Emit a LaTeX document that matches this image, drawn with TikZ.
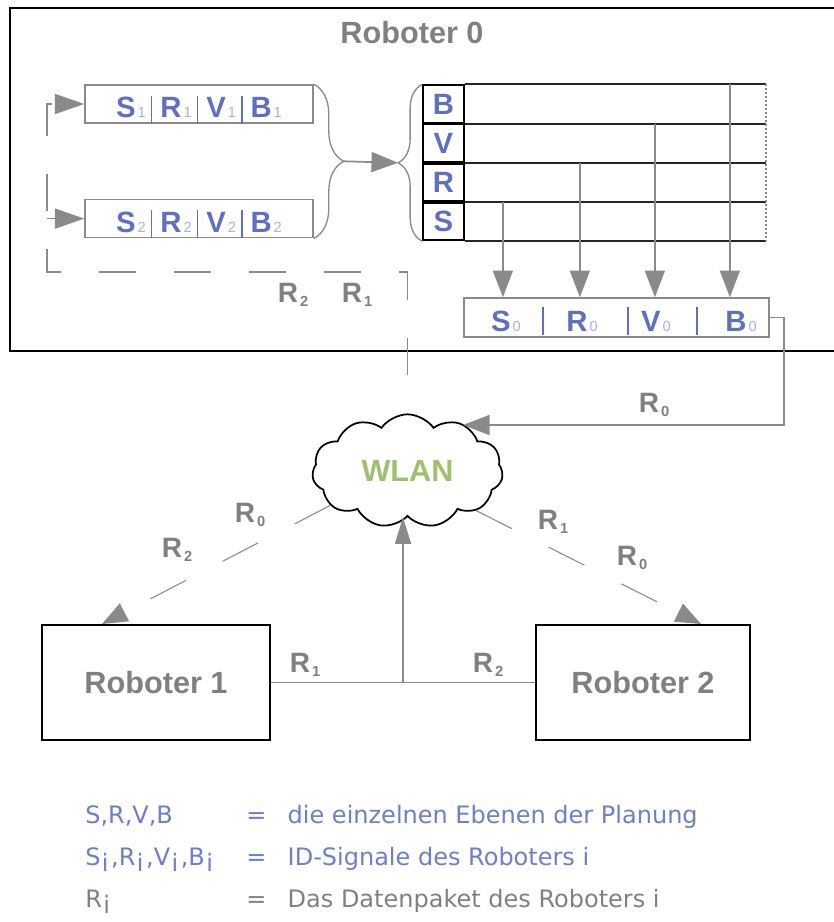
\documentclass[tikz,border=0pt]{standalone}
\usepackage{fontspec}
\setmainfont{Liberation Sans}
\newfontfamily\legendfont{DejaVu Sans}
\usetikzlibrary{arrows.meta, positioning, calc, shapes.symbols, decorations.pathreplacing}
\definecolor{IDBlue}{HTML}{6070C0}
\definecolor{IDLight}{HTML}{A8B0E0}
\definecolor{LabelGrey}{HTML}{808080}
\definecolor{LineGrey}{HTML}{8A8A8A}
\definecolor{WlanGreen}{HTML}{A0C070}
\definecolor{LegendBlue}{HTML}{6E7EC8}

\newcommand{\idsub}[1]{\hspace{1.5pt}{\fontsize{11}{11}\selectfont\mdseries\color{IDLight}#1}}
\newcommand{\idbar}{\hspace{4pt}{\color{IDBlue}\rule[-4.5pt]{0.9pt}{21pt}}\hspace{6pt}}
\newcommand{\rlab}[1]{R\hspace{1.5pt}\raisebox{-2.5pt}{\fontsize{11}{11}\selectfont #1}}
\newcommand{\lsub}{\hspace{1pt}\raisebox{-4.5pt}{i}\hspace{2pt}}

\tikzset{
  frame/.style={draw=black, line width=1.6pt},
  idbox/.style={draw=LineGrey, line width=1.2pt, minimum width=171pt, minimum height=28.5pt, inner sep=0pt},
  idtxt/.style={text=IDBlue, font=\fontsize{22}{24}\selectfont\bfseries, inner sep=0pt},
  cell/.style={draw=black, line width=1.3pt, minimum width=30.75pt, minimum height=28.1pt, inner sep=0pt, text=IDBlue, font=\fontsize{22}{24}\selectfont\bfseries},
  rowline/.style={draw=black!85, line width=1.4pt},
  pk/.style={draw=LineGrey, line width=1.3pt},
  pkarrow/.style={pk, -{Triangle[length=20pt, width=15pt]}},
  fb/.style={pk, dash pattern=on 27.75pt off 28.5pt, dash phase=27.75pt},
  radio/.style={draw=LineGrey, line width=0.8pt, dash pattern=on 30pt off 31pt, -{Triangle[length=19pt, width=15pt]}},
  lbl/.style={text=LabelGrey, font=\fontsize{21}{23}\selectfont\bfseries, inner sep=0pt},
  robot/.style={draw=black, line width=1.5pt, minimum height=86.25pt, inner sep=0pt, text=LabelGrey, font=\fontsize{23}{25}\selectfont\bfseries},
  legend/.style={font=\legendfont\fontsize{18}{20}\selectfont, inner sep=0pt, anchor=base west},
}

\begin{document}
\begin{tikzpicture}[x=0.75pt, y=-0.75pt]
\useasboundingbox (0,0) rectangle (834,922);

% Roboter 0
\draw[frame] (10,8) rectangle (850,351);
\node[lbl, font=\fontsize{23}{25}\selectfont\bfseries] (title) at (412,33) {Roboter 0};

% ID-Signale der anderen Roboter
\node[idbox] (p1) at (199,104) {};
\node[idbox, below=56.25pt of p1] (p2) {};
\node[idtxt, anchor=base] (t1) at ($(p1.south)+(0,-6)$) {S\idsub{1}\idbar R\idsub{1}\idbar V\idsub{1}\idbar B\idsub{1}};
\node[idtxt, anchor=base] (t2) at ($(p2.south)+(0,-6)$) {S\idsub{2}\idbar R\idsub{2}\idbar V\idsub{2}\idbar B\idsub{2}};

% Ebenen der Planung
\node[cell] (cB) at (443.5,104) {B};
\node[cell, below=0pt of cB] (cV) {V};
\node[cell, below=0pt of cV] (cR) {R};
\node[cell, below=0pt of cR] (cS) {S};
\foreach \c in {B,V,R,S}
  \draw[rowline] (c\c.north east) -- ++(301,0);
\draw[rowline] (cS.south east) -- ++(301,0);
\draw[LineGrey, line width=1pt, dotted] ($(cB.north east)+(301,0)$) -- ($(cS.south east)+(301,0)$);

% Klammern
\draw[pk, line width=1pt, decorate, decoration={brace, amplitude=22.5pt}] (p1.north east) -- (p2.south east);
\draw[pk, line width=1pt, decorate, decoration={brace, amplitude=18pt}] (cS.south west) -- (cB.north west);
\coordinate (bt1) at ($(p1.north east)!0.5!(p2.south east)+(30,0)$);
\coordinate (bt2) at ($(cB.north west)!0.5!(cS.south west)+(-24,0)$);
\draw[pkarrow] (bt1) -- (bt2);

% Datenpaket Roboter 0
\node[idbox, minimum width=228.75pt, minimum height=29.25pt] (p0) at (616.5,317.5) {};
\foreach \l/\x in {S/506,R/582,V/656,B/741}
  \node[idtxt, anchor=base] (t0\l) at (\x,331) {\l\idsub{0}};
\foreach \x in {543,628,697}
  \draw[IDBlue, line width=0.9pt] (\x,307) -- (\x,335);
\foreach \c/\dx in {S/38,R/115,V/190,B/265} {
  \path (c\c.north east) ++(\dx,0) coordinate (a\c);
  \draw[pkarrow] (a\c) -- (a\c |- p0.north);
}

% WLAN
\node[cloud, draw, cloud puffs=11, cloud puff arc=110, cloud ignores aspect,
  minimum width=143pt, minimum height=85pt, inner sep=0pt, line width=1.3pt, fill=white,
  text=WlanGreen, font=\fontsize{23}{25}\selectfont\bfseries] (wlan) at (407.5,471) {WLAN};

% Rueckkopplung R1, R2
\coordinate (fbc) at (47,272);
\draw[fb, -{Triangle[length=22pt, width=15pt]}] (wlan.north) |- (fbc) |- (p1.west);
\draw[pk, -{Triangle[length=22pt, width=15pt]}] (fbc |- p2.west) -- (p2.west);
\node[lbl] (l12) at (293,295) {\rlab{2}};
\node[lbl] (l11) at (357,295) {\rlab{1}};

% Datenpaket R0 ins WLAN
\coordinate (rc) at (784,425);
\coordinate (w0) at (463,425);
\draw[pkarrow] (p0.east) -| (rc) -- (w0);
\node[lbl] (l00) at (654,405) {\rlab{0}};

% Roboter 1 und 2
\node[robot, minimum width=171pt] (r1) at (156,682.5) {Roboter 1};
\node[robot, minimum width=160.5pt, right=198pt of r1] (r2) {Roboter 2};
\draw[pk] (r1.east) -- (r2.west) coordinate[pos=0.5] (jn);
\draw[pk, -{Triangle[length=20pt, width=12pt]}] (jn) -- (jn |- wlan.south);
\node[lbl] (l21) at (305,665) {\rlab{1}};
\node[lbl] (l22) at (488,665) {\rlab{2}};

% Funkstrecken
\draw[radio] (wlan.204) -- ($(r1.north west)+(61,0)$);
\draw[radio] (wlan.330) -- ($(r2.north east)+(-50,0)$);
\node[lbl] (l31) at (250,515) {\rlab{0}};
\node[lbl] (l32) at (177,550) {\rlab{2}};
\node[lbl] (l41) at (553,522) {\rlab{1}};
\node[lbl] (l42) at (632,558) {\rlab{0}};

% Legende
\node[legend, text=LegendBlue] (k1) at (85,823) {S,R,V,B};
\node[legend, text=LegendBlue] (k2) at (85,865) {S\lsub,R\lsub,V\lsub,B\lsub};
\node[legend, text=LabelGrey] (k3) at (85,907) {R\lsub};
\node[legend, text=LegendBlue] (e1) at (246,823) {=\hspace{16pt}die einzelnen Ebenen der Planung};
\node[legend, text=LegendBlue] (e2) at (246,865) {=\hspace{16pt}ID-Signale des Roboters i};
\node[legend, text=LabelGrey] (e3) at (246,907) {=\hspace{16pt}Das Datenpaket des Roboters i};
\end{tikzpicture}
\end{document}
